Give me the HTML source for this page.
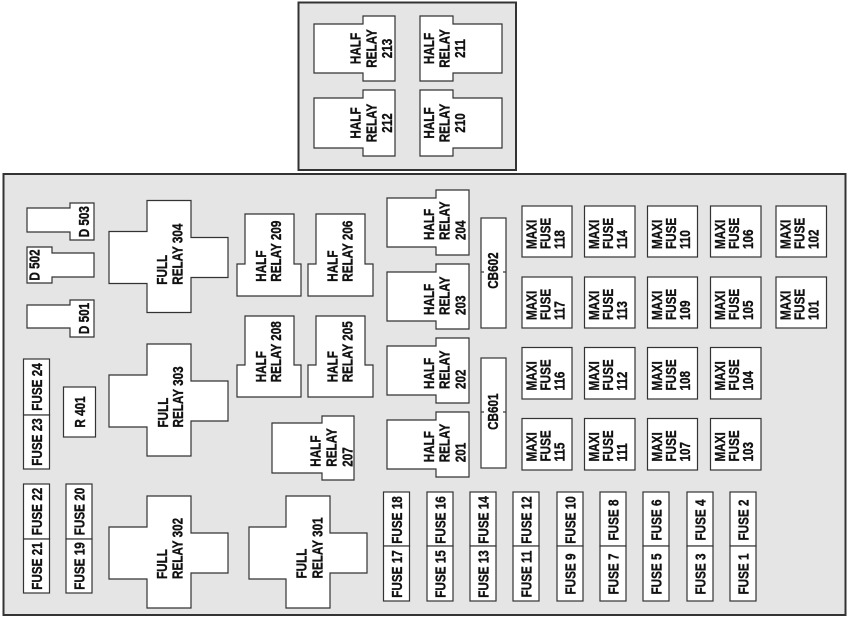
<!DOCTYPE html>
<html><head><meta charset="utf-8"><style>
html,body{margin:0;padding:0;background:#fff;}
svg{display:block;}
text{font-family:"Liberation Sans",Arial,sans-serif;font-weight:bold;font-size:15px;fill:#111;stroke:#111;stroke-width:0.35;}
.m{text-anchor:middle;}
</style></head><body>
<svg width="850" height="619" viewBox="0 0 850 619" xmlns="http://www.w3.org/2000/svg">
<rect width="850" height="619" fill="#fff"/>
<rect x="298.5" y="2.5" width="217.5" height="167.5" fill="#e5e5e5" stroke="#333" stroke-width="2"/>
<rect x="3.5" y="174" width="842" height="441" fill="#e5e5e5" stroke="#333" stroke-width="2"/>

<g fill="#fff" stroke="#333" stroke-width="1.2">
<polygon points="314,24 363,24 363,16 395,16 395,81 363,81 363,73 314,73"/>
<polygon points="314,98 363,98 363,90 395,90 395,156 363,156 363,148 314,148"/>
<polygon points="420,16 453,16 453,24 502,24 502,73 453,73 453,81 420,81"/>
<polygon points="420,90 453,90 453,98 502,98 502,148 453,148 453,156 420,156"/>

<polygon points="27,208 70,208 70,203 94,203 94,240 70,240 70,232 27,232"/>
<polygon points="27,247 52,247 52,253 94,253 94,277 52,277 52,283 27,283"/>
<polygon points="27,305 70,305 70,300 94,300 94,337 70,337 70,328 27,328"/>

<polygon points="147,200.5 191,200.5 191,237.5 228,237.5 228,277.5 191,277.5 191,312.5 147,312.5 147,283.5 109,283.5 109,231.5 147,231.5"/>
<polygon points="147,344 191,344 191,381 228,381 228,421 191,421 191,456 147,456 147,427 109,427 109,375 147,375"/>
<polygon points="147,496 191,496 191,533 228,533 228,573 191,573 191,608 147,608 147,579 109,579 109,527 147,527"/>
<polygon points="286,496 330,496 330,533 367,533 367,573 330,573 330,608 286,608 286,579 249,579 249,527 286,527"/>

<polygon points="245,214 294,214 294,264 301,264 301,296 237,296 237,264 245,264"/>
<polygon points="316,214 365,214 365,264 373,264 373,296 308,296 308,264 316,264"/>
<polygon points="245,316 294,316 294,365 301,365 301,397 237,397 237,365 245,365"/>
<polygon points="316,316 365,316 365,365 373,365 373,397 308,397 308,365 316,365"/>

<polygon points="387,198 436,198 436,190 469,190 469,255 436,255 436,247 387,247"/>
<polygon points="387,272 436,272 436,264 469,264 469,329 436,329 436,321 387,321"/>
<polygon points="387,346 436,346 436,338 469,338 469,403 436,403 436,395 387,395"/>
<polygon points="387,420 436,420 436,412 469,412 469,477 436,477 436,469 387,469"/>

<polygon points="272,423 322,423 322,416 354,416 354,480 322,480 322,473 272,473"/>

<rect x="481" y="218" width="25" height="110"/>
<rect x="481" y="358" width="25" height="110"/>

<rect x="63.5" y="387" width="32" height="50"/>

<rect x="23.5" y="359" width="26" height="56"/>
<rect x="23.5" y="415" width="26" height="54"/>
<rect x="23.5" y="484" width="26" height="55"/>
<rect x="23.5" y="539" width="26" height="54"/>
<rect x="66" y="484" width="26" height="55"/>
<rect x="66" y="539" width="26" height="54"/>

<rect x="522" y="206" width="50" height="51"/>
<rect x="584.5" y="206" width="50.5" height="51"/>
<rect x="647.5" y="206" width="50" height="51"/>
<rect x="710.5" y="206" width="50.5" height="51"/>
<rect x="776" y="206" width="50.5" height="51"/>
<rect x="522" y="277" width="50" height="51"/>
<rect x="584.5" y="277" width="50.5" height="51"/>
<rect x="647.5" y="277" width="50" height="51"/>
<rect x="710.5" y="277" width="50.5" height="51"/>
<rect x="776" y="277" width="50.5" height="51"/>
<rect x="522" y="347.5" width="50" height="51.5"/>
<rect x="584.5" y="347.5" width="50.5" height="51.5"/>
<rect x="647.5" y="347.5" width="50" height="51.5"/>
<rect x="710.5" y="347.5" width="50.5" height="51.5"/>
<rect x="522" y="418.5" width="50" height="51.5"/>
<rect x="584.5" y="418.5" width="50.5" height="51.5"/>
<rect x="647.5" y="418.5" width="50" height="51.5"/>
<rect x="710.5" y="418.5" width="50.5" height="51.5"/>

<rect x="383.5" y="492" width="26" height="54"/><rect x="383.5" y="546" width="26" height="55"/>
<rect x="427" y="492" width="26" height="54"/><rect x="427" y="546" width="26" height="55"/>
<rect x="470" y="492" width="26" height="54"/><rect x="470" y="546" width="26" height="55"/>
<rect x="513" y="492" width="26" height="54"/><rect x="513" y="546" width="26" height="55"/>
<rect x="557" y="492" width="26" height="54"/><rect x="557" y="546" width="26" height="55"/>
<rect x="600" y="492" width="26" height="54"/><rect x="600" y="546" width="26" height="55"/>
<rect x="643" y="492" width="26" height="54"/><rect x="643" y="546" width="26" height="55"/>
<rect x="687" y="492" width="26" height="54"/><rect x="687" y="546" width="26" height="55"/>
<rect x="730" y="492" width="26" height="54"/><rect x="730" y="546" width="26" height="55"/>
</g>

<g stroke="#333" stroke-width="1.2">
<line x1="481" y1="272" x2="484" y2="272"/><line x1="503" y1="272" x2="506" y2="272"/>
<line x1="481" y1="412" x2="484" y2="412"/><line x1="503" y1="412" x2="506" y2="412"/>
</g>

<text class="m" transform="translate(360.5,48.5) rotate(-90) scale(0.78,1)">HALF</text>
<text class="m" transform="translate(376.5,48.5) rotate(-90) scale(0.78,1)">RELAY</text>
<text class="m" transform="translate(392,48.5) rotate(-90) scale(0.78,1)">213</text>
<text class="m" transform="translate(433.8,48.5) rotate(-90) scale(0.78,1)">HALF</text>
<text class="m" transform="translate(449.5,48.5) rotate(-90) scale(0.78,1)">RELAY</text>
<text class="m" transform="translate(465.2,48.5) rotate(-90) scale(0.78,1)">211</text>
<text class="m" transform="translate(360.5,123) rotate(-90) scale(0.78,1)">HALF</text>
<text class="m" transform="translate(376.5,123) rotate(-90) scale(0.78,1)">RELAY</text>
<text class="m" transform="translate(392,123) rotate(-90) scale(0.78,1)">212</text>
<text class="m" transform="translate(433.8,123) rotate(-90) scale(0.78,1)">HALF</text>
<text class="m" transform="translate(449.5,123) rotate(-90) scale(0.78,1)">RELAY</text>
<text class="m" transform="translate(465.2,123) rotate(-90) scale(0.78,1)">210</text>

<text class="m" transform="translate(89,221.7) rotate(-90) scale(0.78,1)">D 503</text>
<text class="m" transform="translate(39.5,265) rotate(-90) scale(0.78,1)">D 502</text>
<text class="m" transform="translate(89,318.5) rotate(-90) scale(0.78,1)">D 501</text>

<text transform="translate(167,284.7) rotate(-90) scale(0.78,1)">FULL</text>
<text transform="translate(182.7,284.7) rotate(-90) scale(0.78,1)">RELAY 304</text>
<text transform="translate(167.8,427.5) rotate(-90) scale(0.78,1)">FULL</text>
<text transform="translate(183,427.5) rotate(-90) scale(0.78,1)">RELAY 303</text>
<text transform="translate(167,579) rotate(-90) scale(0.78,1)">FULL</text>
<text transform="translate(182.6,579) rotate(-90) scale(0.78,1)">RELAY 302</text>
<text transform="translate(306.7,578.5) rotate(-90) scale(0.78,1)">FULL</text>
<text transform="translate(322.4,578.5) rotate(-90) scale(0.78,1)">RELAY 301</text>

<text transform="translate(266,281.7) rotate(-90) scale(0.78,1)">HALF</text>
<text transform="translate(281,281.7) rotate(-90) scale(0.78,1)">RELAY 209</text>
<text transform="translate(337.4,281.7) rotate(-90) scale(0.78,1)">HALF</text>
<text transform="translate(352.6,281.7) rotate(-90) scale(0.78,1)">RELAY 206</text>
<text transform="translate(266,382.3) rotate(-90) scale(0.78,1)">HALF</text>
<text transform="translate(281,382.3) rotate(-90) scale(0.78,1)">RELAY 208</text>
<text transform="translate(337.4,382.3) rotate(-90) scale(0.78,1)">HALF</text>
<text transform="translate(352.6,382.3) rotate(-90) scale(0.78,1)">RELAY 205</text>

<text transform="translate(434,240) rotate(-90) scale(0.78,1)">HALF</text>
<text transform="translate(449.4,240) rotate(-90) scale(0.78,1)">RELAY</text>
<text transform="translate(465.7,240) rotate(-90) scale(0.78,1)">204</text>
<text transform="translate(434,315) rotate(-90) scale(0.78,1)">HALF</text>
<text transform="translate(449.4,315) rotate(-90) scale(0.78,1)">RELAY</text>
<text transform="translate(465.7,315) rotate(-90) scale(0.78,1)">203</text>
<text transform="translate(434,389) rotate(-90) scale(0.78,1)">HALF</text>
<text transform="translate(449.4,389) rotate(-90) scale(0.78,1)">RELAY</text>
<text transform="translate(465.7,389) rotate(-90) scale(0.78,1)">202</text>
<text transform="translate(434,462.3) rotate(-90) scale(0.78,1)">HALF</text>
<text transform="translate(449.4,462.3) rotate(-90) scale(0.78,1)">RELAY</text>
<text transform="translate(465.7,462.3) rotate(-90) scale(0.78,1)">201</text>

<text transform="translate(320.7,466.7) rotate(-90) scale(0.78,1)">HALF</text>
<text transform="translate(336.4,466.7) rotate(-90) scale(0.78,1)">RELAY</text>
<text transform="translate(352.4,466.7) rotate(-90) scale(0.78,1)">207</text>

<text class="m" transform="translate(498,270.6) rotate(-90) scale(0.78,1)">CB602</text>
<text class="m" transform="translate(498,411.7) rotate(-90) scale(0.78,1)">CB601</text>

<text class="m" transform="translate(85,412) rotate(-90) scale(0.78,1)">R 401</text>

<text class="m" transform="translate(42,387) rotate(-90) scale(0.78,1)">FUSE 24</text>
<text class="m" transform="translate(42,442) rotate(-90) scale(0.78,1)">FUSE 23</text>
<text class="m" transform="translate(42,511.5) rotate(-90) scale(0.78,1)">FUSE 22</text>
<text class="m" transform="translate(42,566) rotate(-90) scale(0.78,1)">FUSE 21</text>
<text class="m" transform="translate(84.5,511.5) rotate(-90) scale(0.78,1)">FUSE 20</text>
<text class="m" transform="translate(84.5,566) rotate(-90) scale(0.78,1)">FUSE 19</text>

<g>
<text transform="translate(536.5,249) rotate(-90) scale(0.78,1)">MAXI</text><text transform="translate(550.5,249) rotate(-90) scale(0.78,1)">FUSE</text><text transform="translate(564.5,249) rotate(-90) scale(0.78,1)">118</text>
<text transform="translate(599,249) rotate(-90) scale(0.78,1)">MAXI</text><text transform="translate(613,249) rotate(-90) scale(0.78,1)">FUSE</text><text transform="translate(627,249) rotate(-90) scale(0.78,1)">114</text>
<text transform="translate(662,249) rotate(-90) scale(0.78,1)">MAXI</text><text transform="translate(676,249) rotate(-90) scale(0.78,1)">FUSE</text><text transform="translate(690,249) rotate(-90) scale(0.78,1)">110</text>
<text transform="translate(725,249) rotate(-90) scale(0.78,1)">MAXI</text><text transform="translate(739,249) rotate(-90) scale(0.78,1)">FUSE</text><text transform="translate(753,249) rotate(-90) scale(0.78,1)">106</text>
<text transform="translate(790.5,249) rotate(-90) scale(0.78,1)">MAXI</text><text transform="translate(804.5,249) rotate(-90) scale(0.78,1)">FUSE</text><text transform="translate(818.5,249) rotate(-90) scale(0.78,1)">102</text>
</g>
<g>
<text transform="translate(536.5,320) rotate(-90) scale(0.78,1)">MAXI</text><text transform="translate(550.5,320) rotate(-90) scale(0.78,1)">FUSE</text><text transform="translate(564.5,320) rotate(-90) scale(0.78,1)">117</text>
<text transform="translate(599,320) rotate(-90) scale(0.78,1)">MAXI</text><text transform="translate(613,320) rotate(-90) scale(0.78,1)">FUSE</text><text transform="translate(627,320) rotate(-90) scale(0.78,1)">113</text>
<text transform="translate(662,320) rotate(-90) scale(0.78,1)">MAXI</text><text transform="translate(676,320) rotate(-90) scale(0.78,1)">FUSE</text><text transform="translate(690,320) rotate(-90) scale(0.78,1)">109</text>
<text transform="translate(725,320) rotate(-90) scale(0.78,1)">MAXI</text><text transform="translate(739,320) rotate(-90) scale(0.78,1)">FUSE</text><text transform="translate(753,320) rotate(-90) scale(0.78,1)">105</text>
<text transform="translate(790.5,320) rotate(-90) scale(0.78,1)">MAXI</text><text transform="translate(804.5,320) rotate(-90) scale(0.78,1)">FUSE</text><text transform="translate(818.5,320) rotate(-90) scale(0.78,1)">101</text>
</g>
<g>
<text transform="translate(536.5,390.5) rotate(-90) scale(0.78,1)">MAXI</text><text transform="translate(550.5,390.5) rotate(-90) scale(0.78,1)">FUSE</text><text transform="translate(564.5,390.5) rotate(-90) scale(0.78,1)">116</text>
<text transform="translate(599,390.5) rotate(-90) scale(0.78,1)">MAXI</text><text transform="translate(613,390.5) rotate(-90) scale(0.78,1)">FUSE</text><text transform="translate(627,390.5) rotate(-90) scale(0.78,1)">112</text>
<text transform="translate(662,390.5) rotate(-90) scale(0.78,1)">MAXI</text><text transform="translate(676,390.5) rotate(-90) scale(0.78,1)">FUSE</text><text transform="translate(690,390.5) rotate(-90) scale(0.78,1)">108</text>
<text transform="translate(725,390.5) rotate(-90) scale(0.78,1)">MAXI</text><text transform="translate(739,390.5) rotate(-90) scale(0.78,1)">FUSE</text><text transform="translate(753,390.5) rotate(-90) scale(0.78,1)">104</text>
</g>
<g>
<text transform="translate(536.5,461.5) rotate(-90) scale(0.78,1)">MAXI</text><text transform="translate(550.5,461.5) rotate(-90) scale(0.78,1)">FUSE</text><text transform="translate(564.5,461.5) rotate(-90) scale(0.78,1)">115</text>
<text transform="translate(599,461.5) rotate(-90) scale(0.78,1)">MAXI</text><text transform="translate(613,461.5) rotate(-90) scale(0.78,1)">FUSE</text><text transform="translate(627,461.5) rotate(-90) scale(0.78,1)">111</text>
<text transform="translate(662,461.5) rotate(-90) scale(0.78,1)">MAXI</text><text transform="translate(676,461.5) rotate(-90) scale(0.78,1)">FUSE</text><text transform="translate(690,461.5) rotate(-90) scale(0.78,1)">107</text>
<text transform="translate(725,461.5) rotate(-90) scale(0.78,1)">MAXI</text><text transform="translate(739,461.5) rotate(-90) scale(0.78,1)">FUSE</text><text transform="translate(753,461.5) rotate(-90) scale(0.78,1)">103</text>
</g>

<text class="m" transform="translate(402,520) rotate(-90) scale(0.78,1)">FUSE 18</text>
<text class="m" transform="translate(402,574) rotate(-90) scale(0.78,1)">FUSE 17</text>
<text class="m" transform="translate(445.5,520) rotate(-90) scale(0.78,1)">FUSE 16</text>
<text class="m" transform="translate(445.5,574) rotate(-90) scale(0.78,1)">FUSE 15</text>
<text class="m" transform="translate(488.5,520) rotate(-90) scale(0.78,1)">FUSE 14</text>
<text class="m" transform="translate(488.5,574) rotate(-90) scale(0.78,1)">FUSE 13</text>
<text class="m" transform="translate(531.5,520) rotate(-90) scale(0.78,1)">FUSE 12</text>
<text class="m" transform="translate(531.5,574) rotate(-90) scale(0.78,1)">FUSE 11</text>
<text class="m" transform="translate(575.5,520) rotate(-90) scale(0.78,1)">FUSE 10</text>
<text class="m" transform="translate(575.5,574) rotate(-90) scale(0.78,1)">FUSE 9</text>
<text class="m" transform="translate(618.5,520) rotate(-90) scale(0.78,1)">FUSE 8</text>
<text class="m" transform="translate(618.5,574) rotate(-90) scale(0.78,1)">FUSE 7</text>
<text class="m" transform="translate(661.5,520) rotate(-90) scale(0.78,1)">FUSE 6</text>
<text class="m" transform="translate(661.5,574) rotate(-90) scale(0.78,1)">FUSE 5</text>
<text class="m" transform="translate(705.5,520) rotate(-90) scale(0.78,1)">FUSE 4</text>
<text class="m" transform="translate(705.5,574) rotate(-90) scale(0.78,1)">FUSE 3</text>
<text class="m" transform="translate(748.5,520) rotate(-90) scale(0.78,1)">FUSE 2</text>
<text class="m" transform="translate(748.5,574) rotate(-90) scale(0.78,1)">FUSE 1</text>
</svg>
</body></html>
